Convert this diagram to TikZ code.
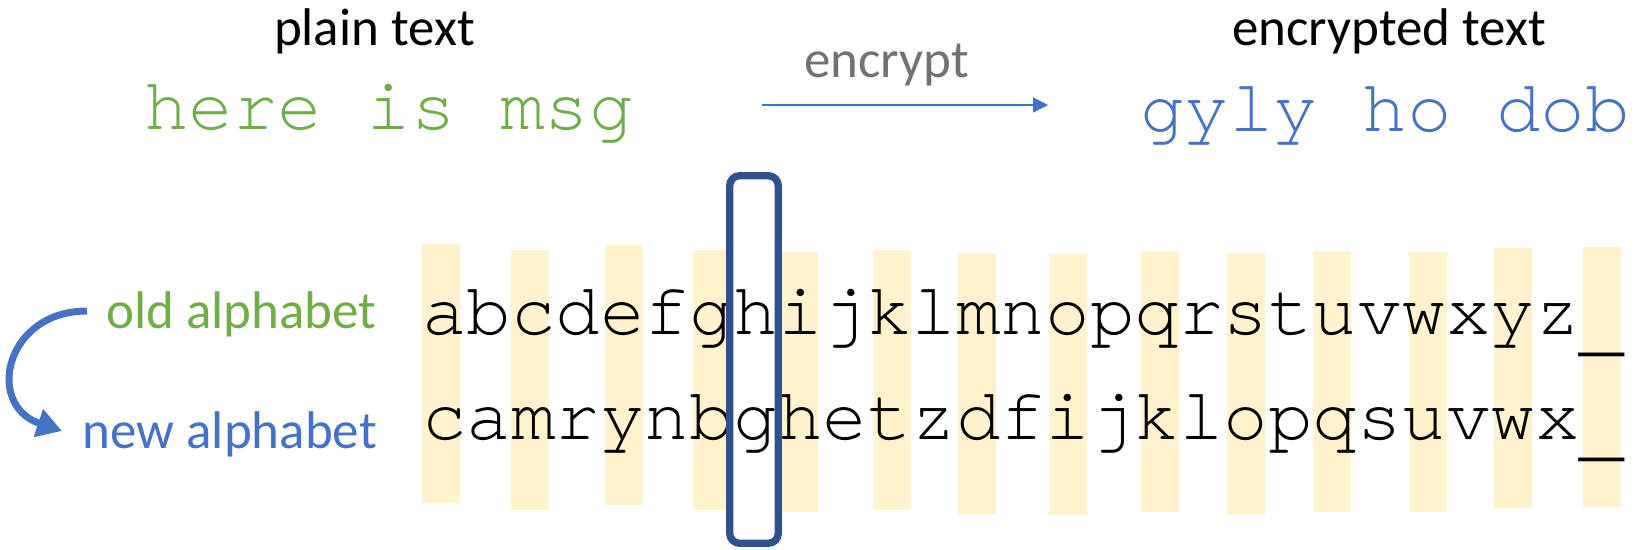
\documentclass[tikz,border=0pt]{standalone}
\usepackage{fontspec}
\setmainfont{Carlito}
\newfontfamily\monof[Ligatures={NoCommon,NoRequired,NoContextual}]{texgyrecursor-regular.otf}
\usetikzlibrary{arrows.meta}
\definecolor{ogreen}{HTML}{70AD47}
\definecolor{oblue}{HTML}{4472C4}
\definecolor{ogray}{HTML}{767171}
\definecolor{ostripe}{HTML}{FFF2CC}
\definecolor{obox}{HTML}{2F528F}
\newcommand{\lowus}{\raisebox{-13pt}{\_}}
\tikzset{
  lbl/.style={inner sep=0, font=\fontsize{53}{60}\selectfont},
  mono/.style={inner sep=0, font=\monof\fontsize{74.2}{80}\selectfont},
  stripe/.style={fill=ostripe, draw=none},
}
\begin{document}
\begin{tikzpicture}[x=1pt,y=-1pt]
\useasboundingbox (0,0) rectangle (1637,549);
% stripes
\foreach \l/\t/\b in {422/244/503, 511/250/510, 605/245/505, 693/250/510, 780/252/512, 873/250/510, 958/253/514, 1049/254/515, 1141/251/512, 1227/253/514, 1313/251/512, 1409/252/512, 1494/248/508, 1583/247/507}
  \fill[stripe] (\l,\t) rectangle ++(38,\b-\t);
% headers
\node[lbl, anchor=base] (plain) at (374.5,45) {plain text};
\node[lbl, anchor=base] (enc) at (1389,45) {encrypted text};
\node[lbl, anchor=base, text=ogray] (encrypt) at (886.5,77) {encrypt};
\node[mono, anchor=base west, text=ogreen] (msg) at (144,129) {here is msg};
\node[mono, anchor=base west, text=oblue] (cipher) at (1140,131) {gyly ho dob};
\coordinate (a1) at (762,105);
\coordinate (a2) at (1048,105);
\draw[oblue, line width=1.5, -{Triangle[length=15,width=15]}] (a1) -- (a2);
% alphabets
\node[mono, anchor=base west] (old) at (422,334) {abcdefghijklmnopqrstuvwxyz\lowus};
\node[mono, anchor=base west] (new) at (422,439) {camrynbghetzdfijklopqsuvwx\lowus};
\node[lbl, anchor=base east, text=ogreen] (oldl) at (377,328) {old alphabet};
\node[lbl, anchor=base east, text=oblue] (newl) at (377,448) {new alphabet};
\coordinate (c1) at (87,311);
\coordinate (c2) at (62,431);
\draw[oblue, line width=7, -{Triangle[length=25,width=28]}] (c1) .. controls (5,311) and (-15,405) .. (c2);
% selection box
\node[draw=obox, line width=7.3, rounded corners=10, minimum width=48.6, minimum height=367.6, inner sep=0] (sel) at (754,359.5) {};
\end{tikzpicture}
\end{document}
